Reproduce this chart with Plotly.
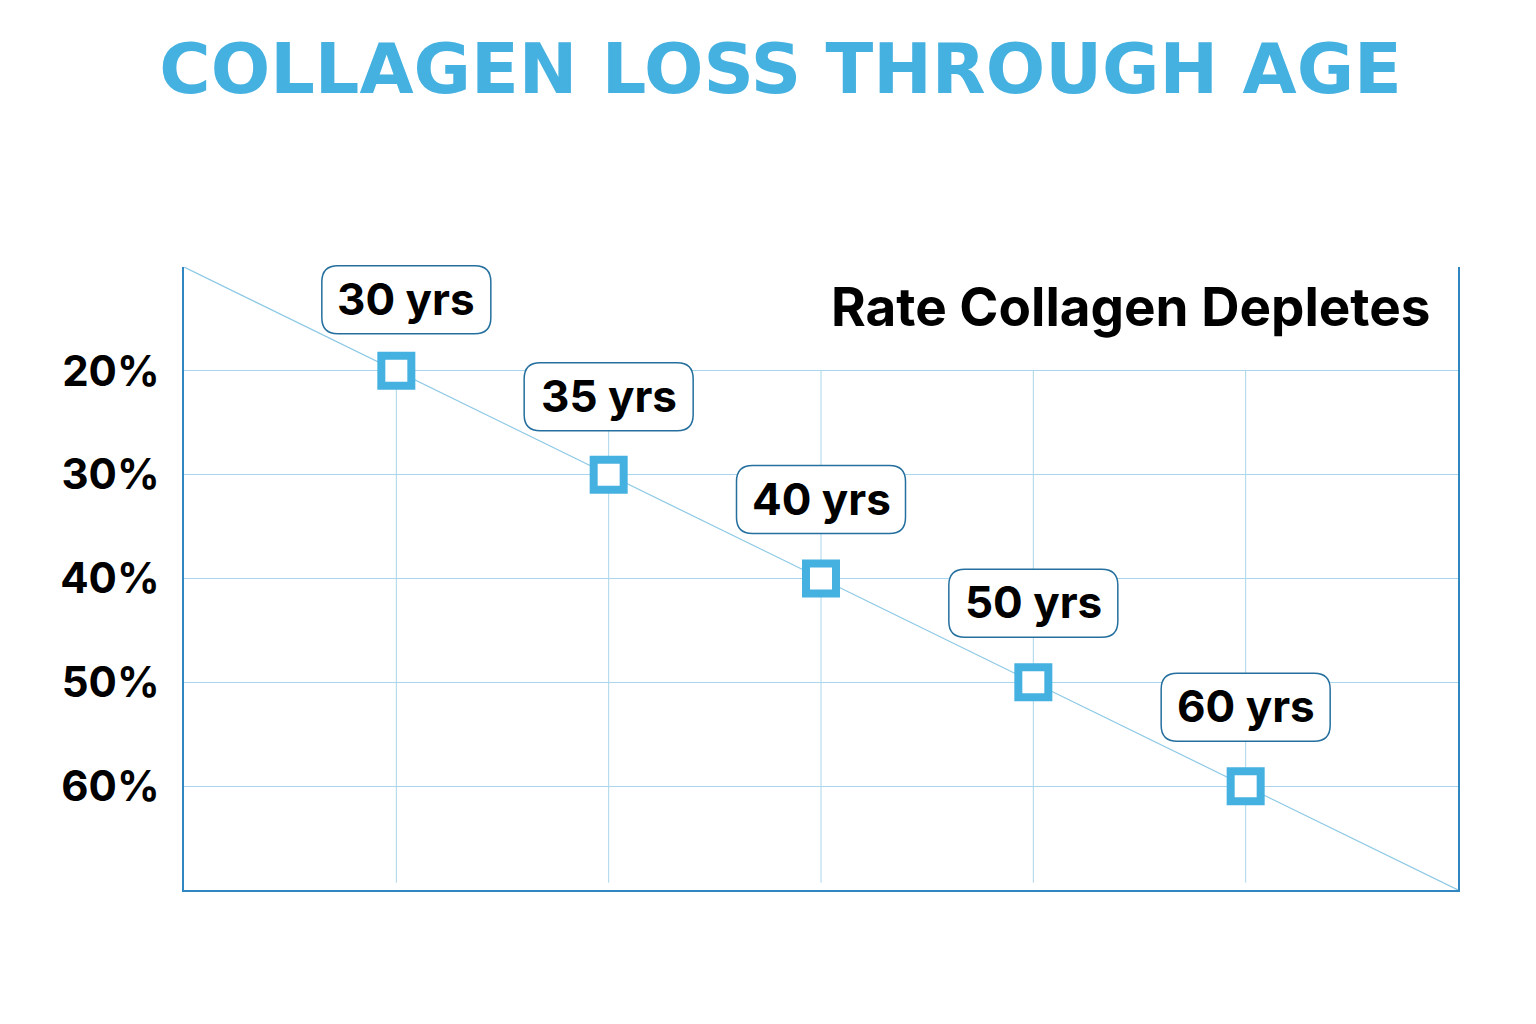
import plotly.graph_objects as go

# data
ages = ["30 yrs", "35 yrs", "40 yrs", "50 yrs", "60 yrs"]
age_pos = [1, 2, 3, 4, 5]
loss = [20, 30, 40, 50, 60]
trend_x = [0, 6]
trend_y = [10, 70]
tick_vals = [20, 30, 40, 50, 60]
tick_text = ["20%", "30%", "40%", "50%", "60%"]

X_RANGE = [0, 6]
Y_RANGE = [70, 10]

BLUE = "#45b1e0"
AXIS = "#2f86c0"
GRID = "#a9d6ea"
BOX = "#246f9e"
FONT = "Inter"

fig = go.Figure()

# thin trend line corner to corner
fig.add_trace(go.Scatter(x=trend_x, y=trend_y, mode="lines",
                         line=dict(color="#8dc9e5", width=1.2),
                         hoverinfo="skip", showlegend=False))

# vertical grid lines only start at the 20% level
for xp in age_pos:
    fig.add_shape(type="line", x0=xp, x1=xp, y0=tick_vals[0], y1=69.3,
                  xref="x", yref="y", line=dict(color=GRID, width=1), layer="below")


# rounded label box path, pixel offsets from the anchor point
def rounded_box(w, h, dx, dy, r):
    x0, x1 = dx - w / 2, dx + w / 2
    y0, y1 = dy, dy + h
    return (f"M {x0+r},{y0} L {x1-r},{y0} Q {x1},{y0} {x1},{y0+r} "
            f"L {x1},{y1-r} Q {x1},{y1} {x1-r},{y1} L {x0+r},{y1} "
            f"Q {x0},{y1} {x0},{y1-r} L {x0},{y0+r} Q {x0},{y0} {x0+r},{y0} Z")


# first box sits a bit lower/right in the original
box_dx = [10, 0, 0, 0, 0]
box_dy = [37, 44, 45, 45, 45]

for xp, yv, lab, dx, dy in zip(age_pos, loss, ages, box_dx, box_dy):
    # paper refs so the top box isn't clipped by the plot area
    px_ = (xp - X_RANGE[0]) / (X_RANGE[1] - X_RANGE[0])
    py_ = (Y_RANGE[0] - yv) / (Y_RANGE[0] - Y_RANGE[1])
    fig.add_shape(type="path", xref="paper", yref="paper", xsizemode="pixel", ysizemode="pixel",
                  xanchor=px_, yanchor=py_, path=rounded_box(169, 68, dx, dy, 16),
                  fillcolor="white", line=dict(color=BOX, width=1.5), layer="above")
    fig.add_annotation(x=xp, y=yv, text=lab, showarrow=False, yshift=dy + 35, xshift=dx,
                       xanchor="center", yanchor="middle",
                       font=dict(family=FONT, size=44, color="black", weight=700))

fig.add_trace(go.Scatter(x=age_pos, y=loss, mode="markers",
                         marker=dict(symbol="square", size=30, color="white",
                                     line=dict(color=BLUE, width=8)),
                         hoverinfo="skip", showlegend=False))

fig.add_annotation(x=0.980, y=0.935, xref="paper", yref="paper",
                   text="Rate Collagen Depletes", showarrow=False,
                   xanchor="right", yanchor="middle",
                   font=dict(family=FONT, size=53, color="black", weight=700))

fig.update_layout(
    width=1536, height=1024,
    margin=dict(l=176, r=86, t=259, b=142),
    paper_bgcolor="white", plot_bgcolor="white",
    title=dict(text="COLLAGEN LOSS THROUGH AGE", x=0.503, xanchor="center",
               y=0.941, yanchor="middle",
               font=dict(family="DejaVu Sans", size=70, color=BLUE, weight=900)),
    xaxis=dict(range=X_RANGE, showgrid=False, zeroline=False, showticklabels=False,
               showline=True, linecolor=AXIS, linewidth=2, ticks=""),
    yaxis=dict(range=Y_RANGE, tickvals=tick_vals, ticktext=tick_text,
               showgrid=True, gridcolor=GRID, gridwidth=1, zeroline=False,
               showline=True, mirror=True, linecolor=AXIS, linewidth=2, ticks="",
               ticklabelstandoff=14,
               tickfont=dict(family=FONT, size=42, color="black", weight=700)),
)

fig.write_html("out.html")
